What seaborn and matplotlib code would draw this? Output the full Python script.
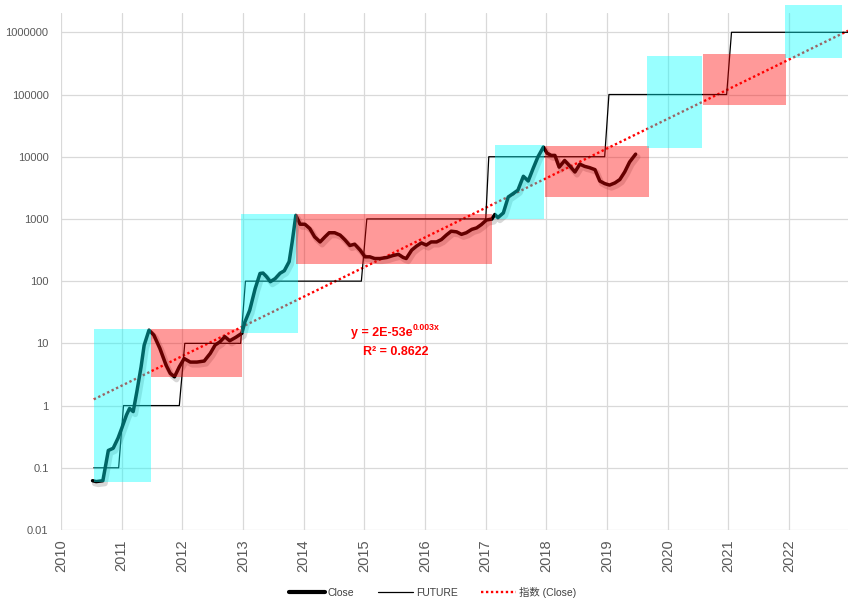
import numpy as np
import pandas as pd
import matplotlib
matplotlib.use("Agg")
import matplotlib.pyplot as plt
import matplotlib.patheffects as pe
from matplotlib.patches import Rectangle
from matplotlib.lines import Line2D
from matplotlib.ticker import FixedLocator, FixedFormatter
import seaborn as sns

# ---------------- data ----------------
close_x = [2010.52, 2010.58, 2010.69, 2010.78, 2010.86, 2010.94, 2011.00, 2011.08, 2011.13, 2011.19,
           2011.25, 2011.32, 2011.37, 2011.45, 2011.53, 2011.63, 2011.73, 2011.80, 2011.87, 2011.95,
           2012.03, 2012.13, 2012.24, 2012.36, 2012.46, 2012.54, 2012.62, 2012.70, 2012.78, 2012.88,
           2012.98, 2013.03, 2013.11, 2013.20, 2013.28, 2013.33, 2013.39, 2013.45, 2013.53, 2013.61,
           2013.68, 2013.76, 2013.81, 2013.87, 2013.94, 2014.02, 2014.10, 2014.18, 2014.27, 2014.35,
           2014.42, 2014.51, 2014.60, 2014.68, 2014.76, 2014.84, 2014.93, 2015.01, 2015.09, 2015.17,
           2015.26, 2015.37, 2015.47, 2015.56, 2015.64, 2015.69, 2015.78, 2015.86, 2015.94, 2016.02,
           2016.10, 2016.19, 2016.27, 2016.35, 2016.43, 2016.52, 2016.60, 2016.68, 2016.77, 2016.85,
           2016.93, 2017.01, 2017.10, 2017.15, 2017.20, 2017.29, 2017.37, 2017.45, 2017.53, 2017.62,
           2017.70, 2017.78, 2017.86, 2017.95, 2018.01, 2018.08, 2018.14, 2018.21, 2018.30, 2018.39,
           2018.47, 2018.55, 2018.63, 2018.71, 2018.80, 2018.88, 2018.96, 2019.04, 2019.13, 2019.21,
           2019.29, 2019.37, 2019.47]
close_y = [0.062, 0.060, 0.062, 0.19, 0.206, 0.30, 0.43, 0.71, 0.90, 0.80,
           1.67, 4.2, 9.3, 16.3, 13.6, 8.3, 4.5, 3.3, 2.9, 4.2,
           5.7, 5.0, 5.0, 5.2, 6.9, 9.4, 10.6, 12.8, 11.0, 12.5,
           14.5, 22, 34, 76, 133, 135, 117, 98, 110, 134,
           147, 206, 427, 1140, 822, 822, 700, 515, 427, 515,
           600, 600, 550, 460, 374, 393, 315, 246, 246, 231,
           231, 240, 258, 270, 240, 231, 316, 366, 412, 380,
           427, 427, 467, 550, 635, 620, 565, 600, 680, 718,
           815, 960, 995, 1180, 1050, 1250, 2250, 2550, 2900, 4850,
           4070, 6450, 9950, 14300, 11400, 10500, 10500, 6800, 8700, 7000,
           5680, 7600, 7000, 6680, 6200, 4070, 3700, 3500, 3800, 4300,
           5700, 8200, 11000]

future_x = [2010.54, 2010.95, 2011.03, 2011.95, 2012.04, 2012.96, 2013.04, 2014.95, 2015.04,
            2017.00, 2017.05, 2018.96, 2019.03, 2020.97, 2021.05, 2023.00]
future_y = [0.1, 0.1, 1, 1, 10, 10, 100, 100, 1000, 1000, 10000, 10000, 100000, 100000,
            1000000, 1000000]

trend_x = [2010.54, 2022.97]
trend_y = [1.26, 1.06e6]

box_x0 = [2010.54, 2011.48, 2012.97, 2013.88, 2017.15, 2017.97, 2019.65, 2020.58, 2021.93]
box_x1 = [2011.48, 2012.98, 2013.90, 2017.11, 2017.96, 2019.69, 2020.57, 2021.94, 2022.87]
box_low = [0.059, 2.88, 14.6, 192, 990, 2254, 13600, 68100, 387000]
box_high = [17, 17, 1203, 1203, 15200, 14800, 417000, 444000, 2.74e6]
box_kind = ["bull", "bear", "bull", "bear", "bull", "bear", "bull", "bear", "bull"]

year_ticks = list(range(2010, 2023))
y_ticks = [0.01, 0.1, 1, 10, 100, 1000, 10000, 100000, 1000000]
y_labels = ["0.01", "0.1", "1", "10", "100", "1000", "10000", "100000", "1000000"]

legend_labels = ["Close", "FUTURE", "指数 (Close)"]
eq_text = "y = 2E-53e"
eq_sup = "0.003x"
r2_text = "R² = 0.8622"

# ---------------- plot ----------------
sns.set_theme(style="white")
plt.rcParams["font.family"] = ["Liberation Sans", "Noto Sans CJK SC", "DejaVu Sans"]

W, H = 848, 612
fig = plt.figure(figsize=(W / 100, H / 100), dpi=100)
ax = fig.add_axes([61 / W, 1 - 530 / H, (848 - 61) / W, (530 - 13.3) / H])

ax.set_yscale("log")
ax.set_xlim(2010, 2022.97)
ax.set_ylim(0.01, 2.02e6)

close_df = pd.DataFrame({"x": close_x, "y": close_y})
future_df = pd.DataFrame({"x": future_x, "y": future_y})
trend_df = pd.DataFrame({"x": trend_x, "y": trend_y})

sns.lineplot(data=trend_df, x="x", y="y", ax=ax, color="#ff0000", lw=1.7,
             linestyle=(0, (1, 1.1)), sort=False, estimator=None, zorder=2)
sns.lineplot(data=future_df, x="x", y="y", ax=ax, color="black", lw=0.9,
             sort=False, estimator=None, zorder=3)
sns.lineplot(data=close_df, x="x", y="y", ax=ax, color="black", lw=2.5,
             sort=False, estimator=None, zorder=4,
             path_effects=[pe.SimpleLineShadow(offset=(1.5, -2), shadow_color="#505050",
                                               alpha=0.22, linewidth=4.0),
                           pe.Normal()])

colors = {"bull": (0.0, 1.0, 1.0, 0.4), "bear": (1.0, 0.0, 0.0, 0.4)}
for x0, x1, lo, hi, k in zip(box_x0, box_x1, box_low, box_high, box_kind):
    ax.add_patch(Rectangle((x0, lo), x1 - x0, hi - lo, facecolor=colors[k],
                           edgecolor="none", zorder=6, clip_on=False))

# axes styling
for s in ax.spines.values():
    s.set_visible(False)
ax.xaxis.set_major_locator(FixedLocator(year_ticks))
ax.xaxis.set_major_formatter(FixedFormatter([str(y) for y in year_ticks]))
ax.yaxis.set_major_locator(FixedLocator(y_ticks))
ax.yaxis.set_major_formatter(FixedFormatter(y_labels))
ax.yaxis.set_minor_locator(FixedLocator([]))
ax.grid(True, which="major", color="#d9d9d9", lw=0.9, zorder=0)
ax.set_axisbelow(True)
ax.tick_params(axis="x", length=0, pad=7, labelsize=10.5, labelcolor="#595959", rotation=90)
ax.tick_params(axis="y", length=0, pad=9, labelsize=8, labelcolor="#595959")
ax.set_xlabel("")
ax.set_ylabel("")

# equation annotation
t1 = fig.text(382 / W, 1 - 333 / H, eq_text, color="#ff0000", fontsize=9,
              fontweight="bold", ha="center", va="center")
ax.annotate(eq_sup, xy=(1.0, 0.55), xycoords=t1, color="#ff0000", fontsize=6.3,
            fontweight="bold", ha="left", va="bottom")
fig.text(396 / W, 1 - 352 / H, r2_text, color="#ff0000", fontsize=9,
         fontweight="bold", ha="center", va="center")

# legend
handles = [Line2D([], [], color="black", lw=3.0),
           Line2D([], [], color="black", lw=0.9),
           Line2D([], [], color="#ff0000", lw=1.7, linestyle=(0, (1, 1.1)))]
fig.legend(handles, legend_labels, loc="center", bbox_to_anchor=(433 / W, 1 - 592 / H),
           ncol=3, frameon=False, fontsize=7.5, handlelength=3.4, handletextpad=0.3,
           columnspacing=2.2, labelcolor="#404040")

fig.savefig("out.png", dpi=100)
